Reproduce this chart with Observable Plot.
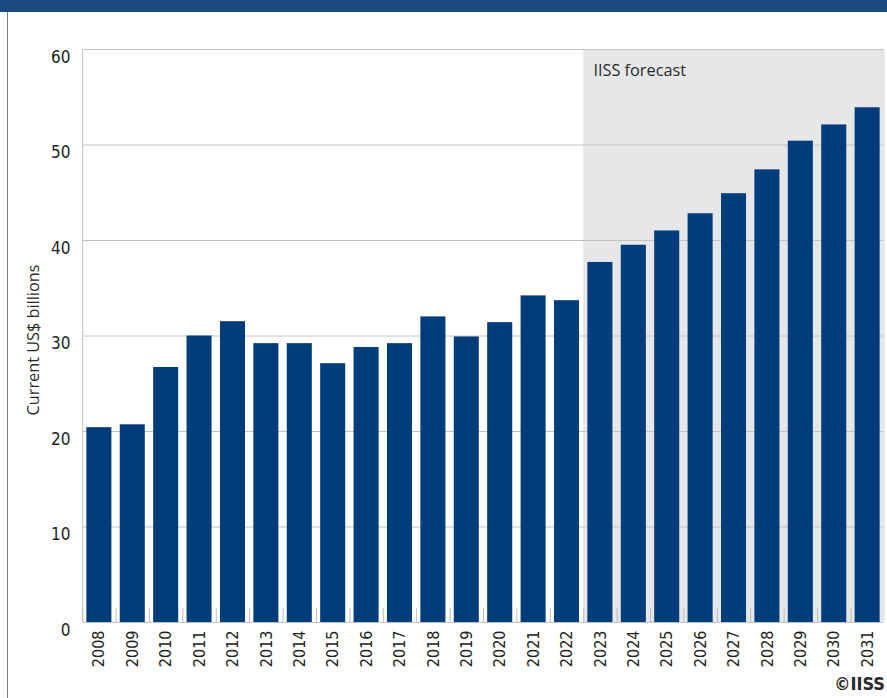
<!DOCTYPE html>
<html>
<head>
<meta charset="utf-8">
<script src="https://cdn.jsdelivr.net/npm/d3@7"></script>
<script src="https://cdn.jsdelivr.net/npm/@observablehq/plot@0.6"></script>
<style>
  html, body { margin: 0; padding: 0; background: #fff; }
  #wrap { position: relative; width: 887px; height: 698px; overflow: hidden; background: #fff; }
  #wrap svg { position: absolute; left: 0; top: 0; }
  #header { position: absolute; left: 0; top: 0; width: 887px; height: 12px; background: #1b4a7e; }
  #leftline { position: absolute; left: 7px; top: 12px; width: 1px; height: 686px; background: #7a7a7a; }
  #ylabel { position: absolute; left: 33px; top: 340px; transform: translate(-50%, -50%) rotate(-90deg);
    font-family: "Open Sans", Lato, sans-serif; font-size: 16.3px; color: #2a2a2a; white-space: nowrap; }
  #credit { position: absolute; right: 2px; top: 673px; font-family: "DejaVu Sans", sans-serif;
    font-stretch: condensed; font-weight: bold; font-size: 18px; color: #2a2a2a; }
</style>
</head>
<body>
<div id="wrap">
  <div id="header"></div>
  <div id="leftline"></div>
  <div id="ylabel">Current US$ billions</div>
  <div id="credit">©IISS</div>
</div>
<script>
const years = ["2008","2009","2010","2011","2012","2013","2014","2015","2016","2017","2018","2019","2020","2021","2022","2023","2024","2025","2026","2027","2028","2029","2030","2031"];
const spending = [20.4, 20.7, 26.7, 30.0, 31.5, 29.2, 29.2, 27.1, 28.8, 29.2, 32.0, 29.9, 31.4, 34.2, 33.7, 37.7, 39.5, 41.0, 42.8, 44.9, 47.4, 50.4, 52.1, 53.9];
const forecastYears = ["2023","2024","2025","2026","2027","2028","2029","2030","2031"];
const yTicks = [0, 10, 20, 30, 40, 50, 60];
const forecastLabel = "IISS forecast";

const data = years.map((y, i) => ({year: y, value: spending[i]}));

const condensed = '"DejaVu Sans", sans-serif';
const W = 887, H = 698, mL = 83, mR = 4, mT = 49, mB = 76;
const step = (W - mL - mR) / (years.length - 0.25 + 2 * 0.1);

const chart = Plot.plot({
  width: W, height: H,
  marginLeft: mL, marginRight: mR, marginTop: mT, marginBottom: mB,
  style: { fontFamily: condensed, fontStretch: "condensed", background: "transparent" },
  x: { type: "band", domain: years, paddingInner: 0.25, paddingOuter: 0.1, round: false, label: null },
  y: { domain: [0, 60], label: null },
  marks: [
    Plot.barY(forecastYears, { x: d => d, y: () => 60, fill: "#e6e7e9", insetLeft: -(step * 0.25) / 2, insetRight: -(step * 0.25) / 2 - 1 }),
    Plot.ruleY(yTicks, { stroke: "#c2c2c2", strokeWidth: 1 }),
    Plot.ruleX([0], { x: () => years[0], y1: 0, y2: 60, dx: -step / 2, stroke: "#c2c2c2" }),
    Plot.ruleX(years, { x: d => d, y1: 0, y2: 1.45, dx: -step / 2, stroke: "#bdbdbd" }),
    Plot.barY(data, { x: "year", y: "value", fill: "#023d7b" }),
    Plot.text([forecastLabel], { x: () => forecastYears[0], y: () => 60, text: d => d, textAnchor: "start", lineAnchor: "top", dx: -7, dy: 15,
      fontFamily: '"Open Sans", Lato, sans-serif', fontSize: 16.3, fill: "#2a2a2a", className: "forecast-label" }),
    Plot.axisY(yTicks, { tickSize: 0, tickPadding: 13, dy: 8, fontSize: 17, fill: "#222", label: null }),
    Plot.axisX({ tickSize: 0, tickPadding: 8, tickRotate: -90, fontSize: 16, fill: "#222", label: null })
  ]
});
d3.select(chart).selectAll(".forecast-label, .forecast-label text").style("font-stretch", "normal");
document.getElementById("wrap").insertBefore(chart, document.getElementById("header"));
</script>
</body>
</html>
